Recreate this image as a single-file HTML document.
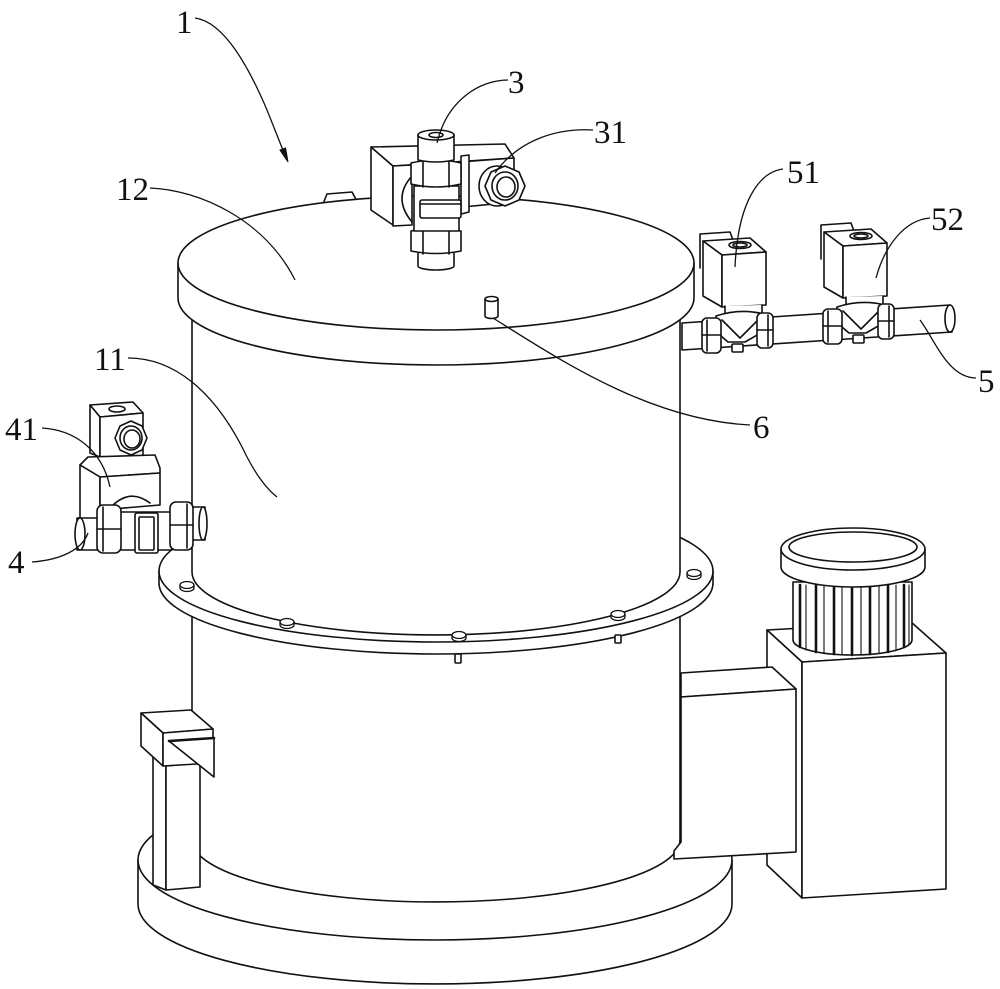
<!DOCTYPE html>
<html><head><meta charset="utf-8">
<style>
html,body{margin:0;padding:0;background:#fff;}
svg{display:block;}
text{font-family:"Liberation Serif",serif;font-size:33px;fill:#111;}
</style></head><body>
<svg width="1000" height="989" viewBox="0 0 1000 989" xmlns="http://www.w3.org/2000/svg">
<g fill="#fff" stroke="#111" stroke-width="1.6" stroke-linejoin="round" stroke-linecap="round">

<!-- base disk -->
<path d="M138,860 L138,904 A297,80 0 0 0 732,904 L732,860 Z"/>
<ellipse cx="435" cy="860" rx="297" ry="80"/>

<!-- motor big box -->
<polygon points="767,630 911,622 946,653 802,662"/>
<polygon points="767,630 802,662 802,898 767,865"/>
<polygon points="802,662 946,653 946,889 802,898"/>
<!-- pulley ribs -->
<path d="M793,582 L793,640 A59.5,15 0 0 0 912,640 L912,582 Z"/>
<g stroke-width="2.6">
<line x1="800" y1="585" x2="800" y2="647"/>
<line x1="816" y1="585" x2="816" y2="652"/>
<line x1="834" y1="585" x2="834" y2="654"/>
<line x1="852" y1="585" x2="852" y2="655"/>
<line x1="870" y1="585" x2="870" y2="654"/>
<line x1="888" y1="585" x2="888" y2="652"/>
<line x1="904" y1="585" x2="904" y2="647"/>
</g>
<g stroke-width="1.1">
<line x1="806" y1="585" x2="806" y2="650"/>
<line x1="824" y1="585" x2="824" y2="653"/>
<line x1="842" y1="585" x2="842" y2="655"/>
<line x1="861" y1="585" x2="861" y2="655"/>
<line x1="879" y1="585" x2="879" y2="653"/>
<line x1="896" y1="585" x2="896" y2="650"/>
<line x1="909" y1="585" x2="909" y2="644"/>
</g>
<path d="M781,549 L781,567 A72,20 0 0 0 925,567 L925,549 Z"/>
<ellipse cx="853" cy="549" rx="72" ry="21"/>
<ellipse cx="853" cy="547" rx="64" ry="15"/>

<!-- lower cylinder -->
<path d="M192,583 L192,840 A244,62 0 0 0 680,840 L680,583"/>

<!-- connecting box -->
<polygon points="681,673 772,667 796,689 681,697"/>
<polygon points="681,697 796,689 796,852 674,859 674,851 681,842"/>

<!-- left bracket -->
<path d="M153,740 L153,885 L166,890 L166,766 Z"/>
<path d="M166,766 L200,763 L200,887 L166,890 Z"/>
<polygon points="141,713 191,710 213,729 163,733"/>
<polygon points="141,713 163,733 163,766 141,746"/>
<polygon points="163,733 213,729 213,763 163,766"/>
<polygon points="169,741 214,738 214,777"/>
<line x1="169" y1="741" x2="214" y2="738" stroke-width="2.6"/>

<!-- flange -->
<path d="M159,571 L159,583 A277,71 0 0 0 713,583 L713,571"/>
<ellipse cx="436" cy="571" rx="277" ry="71"/>
<rect x="455" y="654" width="6" height="9" rx="1"/>
<rect x="615" y="635" width="6" height="8" rx="1"/>

<!-- upper cylinder -->
<path d="M192,318 L192,572 A244,63 0 0 0 680,572 L680,318 Z" stroke="none"/>
<path d="M192,318 L192,572 A244,63 0 0 0 680,572 L680,318" fill="none"/>

<!-- bolts -->
<g stroke-width="1.3">
<path d="M180,585 L180,588 A7,3.5 0 0 0 194,588 L194,585"/><ellipse cx="187" cy="585" rx="7" ry="3.5"/>
<path d="M280,622 L280,625 A7,3.5 0 0 0 294,625 L294,622"/><ellipse cx="287" cy="622" rx="7" ry="3.5"/>
<path d="M452,635 L452,638 A7,3.5 0 0 0 466,638 L466,635"/><ellipse cx="459" cy="635" rx="7" ry="3.5"/>
<path d="M611,614 L611,617 A7,3.5 0 0 0 625,617 L625,614"/><ellipse cx="618" cy="614" rx="7" ry="3.5"/>
<path d="M687,573 L687,576 A7,3.5 0 0 0 701,576 L701,573"/><ellipse cx="694" cy="573" rx="7" ry="3.5"/>
</g>

<!-- lid -->
<path d="M323,204 L327,194 L352,192 L358,203 Z"/>
<path d="M178,263 L178,298 A258,67 0 0 0 694,298 L694,263"/>
<ellipse cx="436" cy="263" rx="258" ry="67"/>
<!-- pin 6 -->
<path d="M485,299 L485,316 A6.5,2.5 0 0 0 498,316 L498,299"/>
<ellipse cx="491.5" cy="299" rx="6.5" ry="2.5"/>

<!-- valve 3 -->
<polygon points="371,147 393,166 393,225 371,210"/>
<polygon points="371,147 505,144 514,158 393,166"/>
<polygon points="393,166 412,165 412,225 393,226"/>
<polygon points="460,162 514,158 514,202 463,207"/>
<polygon points="461,156 469,155 469,212 461,214"/>
<path d="M412,176 Q392,198 412,222" fill="none"/>
<ellipse cx="497" cy="186" rx="18" ry="20"/>
<polygon points="525,186 519,200 505,206 491,200 485,186 491,172 505,166 519,172"/>
<ellipse cx="505" cy="186" rx="13" ry="14"/>
<ellipse cx="506" cy="187" rx="9" ry="10"/>
<path d="M418,248 L418,266 A18,4 0 0 0 454,266 L454,248"/>
<path d="M411,231 L411,251 Q436,256 461,251 L461,231 Q436,226 411,231 Z"/>
<line x1="423" y1="229" x2="423" y2="254"/><line x1="449" y1="229" x2="449" y2="254"/>
<rect x="414" y="186" width="45" height="45"/>
<rect x="420" y="200" width="41" height="18" rx="2"/>
<line x1="420" y1="204" x2="461" y2="204"/>
<path d="M411,163 L411,184 Q436,190 461,184 L461,163 Q436,157 411,163 Z"/>
<line x1="423" y1="161" x2="423" y2="187"/><line x1="449" y1="161" x2="449" y2="187"/>
<path d="M418,135 L418,160 Q436,164 454,160 L454,135"/>
<ellipse cx="436" cy="135" rx="18" ry="5"/>
<ellipse cx="436" cy="135" rx="7" ry="2.5"/>

<!-- pipe 5 -->
<polygon points="682,323 950,305 952,332 682,350"/>
<ellipse cx="950" cy="318.5" rx="5" ry="13.5"/>

<!-- valve 51 / 52 -->
<g id="v51">
<path d="M700,268 L700,234 L730,232 L733,240"/>
<polygon points="703,241 750,238 766,252 722,255"/>
<polygon points="703,241 722,255 722,307 703,296"/>
<polygon points="722,255 766,252 766,305 722,307"/>
<ellipse cx="740" cy="245" rx="11" ry="3.5"/>
<ellipse cx="740" cy="245" rx="7" ry="2"/>
<path d="M725,306 L725,313 A18,5 0 0 0 762,313 L762,305"/>
<path d="M716,316 Q740,308 764,314 L766,330 L745,342 L728,342 L714,330 Z"/>
<path d="M722,320 L740,338 L758,320" fill="none"/>
<rect x="702" y="318" width="19" height="35" rx="5"/>
<line x1="707" y1="320" x2="707" y2="351"/><line x1="702" y1="335" x2="721" y2="335"/>
<rect x="757" y="313" width="16" height="35" rx="5"/>
<line x1="768" y1="315" x2="768" y2="346"/><line x1="757" y1="330" x2="773" y2="330"/>
<rect x="732" y="344" width="11" height="8" rx="1"/>
</g>
<use href="#v51" transform="translate(121,-9)"/>

<!-- valve 4 / 41 -->
<polygon points="90,405 133,402 143,413 100,417"/>
<polygon points="90,405 100,417 100,457 90,453"/>
<polygon points="100,417 143,413 143,458 100,457"/>
<ellipse cx="117" cy="409" rx="8" ry="3"/>
<polygon points="147,438 142,450 131,455 120,450 115,438 120,426 131,421 142,426"/>
<ellipse cx="131" cy="438" rx="11" ry="12"/>
<ellipse cx="132" cy="439" rx="8" ry="9"/>
<polygon points="80,465 88,457 155,455 160,468 160,473 100,477"/>
<polygon points="80,465 100,477 100,520 80,523"/>
<polygon points="100,477 160,473 160,505 100,510"/>
<path d="M112,506 Q130,488 150,503" fill="none"/>
<rect x="77" y="518" width="24" height="32"/>
<ellipse cx="80" cy="534" rx="5" ry="16"/>
<rect x="192" y="507" width="13" height="33"/>
<ellipse cx="203" cy="523.5" rx="4" ry="16.5"/>
<rect x="118" y="512" width="54" height="38"/>
<rect x="97" y="505" width="24" height="48" rx="6"/>
<line x1="103" y1="507" x2="103" y2="551"/><line x1="97" y1="529" x2="121" y2="529"/>
<rect x="170" y="502" width="23" height="48" rx="6"/>
<line x1="187" y1="504" x2="187" y2="548"/><line x1="170" y1="525" x2="193" y2="525"/>
<rect x="135" y="513" width="23" height="40" rx="2"/>
<rect x="139" y="517" width="15" height="33" rx="1"/>
</g>

<!-- leaders -->
<g fill="none" stroke="#111" stroke-width="1.3">
<path d="M195,18 C225,22 250,70 267,110 C275,130 282,148 285,155"/>
<path d="M508,80 C480,80 447,100 437,143"/>
<path d="M593,130 C560,128 520,138 495,173"/>
<path d="M150,188 C200,190 265,220 295,280"/>
<path d="M128,358 C180,358 220,400 247,457 C258,478 268,490 277,497"/>
<path d="M42,428 C75,430 102,450 110,487"/>
<path d="M32,562 C60,560 82,550 88,533"/>
<path d="M783,169 C760,172 738,200 735,267"/>
<path d="M930,218 C905,220 885,245 876,278"/>
<path d="M920,320 C935,340 948,378 976,378"/>
<path d="M493,318 C560,360 650,420 750,425"/>
</g>
<polygon points="288,162 285.6,147.9 280,150.1" fill="#111" stroke="#111" stroke-width="1"/>

<!-- labels -->
<text x="176" y="33">1</text>
<text x="508" y="93">3</text>
<text x="594" y="143">31</text>
<text x="116" y="200">12</text>
<text x="787" y="183">51</text>
<text x="931" y="230">52</text>
<text x="94" y="370">11</text>
<text x="5" y="440">41</text>
<text x="8" y="573">4</text>
<text x="753" y="438">6</text>
<text x="978" y="392">5</text>
</svg>
</body></html>
